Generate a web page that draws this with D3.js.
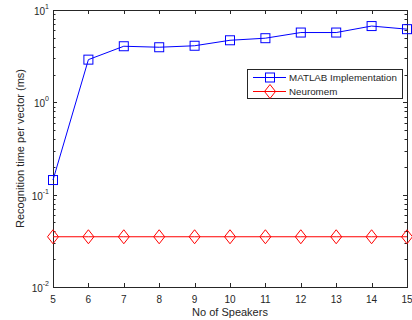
<!DOCTYPE html>
<html><head><meta charset="utf-8">
<script src="https://cdn.jsdelivr.net/npm/d3@7"></script>
<style>body{margin:0;background:#fff}svg{display:block}</style>
</head><body>
<svg id="c" width="412" height="320"></svg>
<script>
const speakers = [5,6,7,8,9,10,11,12,13,14,15];
const matlab = [0.144,2.9,4.05,3.95,4.1,4.7,4.95,5.7,5.7,6.7,6.2];
const neuromem = [0.035,0.035,0.035,0.035,0.035,0.035,0.035,0.035,0.035,0.035,0.035];
const yTickExp = [-2,-1,0,1];
const seriesNames = ["MATLAB Implementation","Neuromem"];

const svg = d3.select("#c");
const L=53,R=407,T=10,B=287;
const x = d3.scaleLinear().domain([5,15]).range([L,R]);
const y = d3.scaleLog().domain([0.01,10]).range([B,T]);
const ax="#262626", font="'Liberation Sans', Arial, sans-serif";
const g = svg.append("g");

// box
g.append("rect").attr("x",L+0.5).attr("y",T+0.5).attr("width",R-L).attr("height",B-T)
 .attr("fill","none").attr("stroke",ax).attr("stroke-width",1);

// x ticks
speakers.forEach(v=>{
  const px=Math.round(x(v))+0.5;
  g.append("line").attr("x1",px).attr("x2",px).attr("y1",B).attr("y2",B-4).attr("stroke",ax);
  g.append("line").attr("x1",px).attr("x2",px).attr("y1",T).attr("y2",T+4).attr("stroke",ax);
  g.append("text").attr("x",x(v)).attr("y",B+16).attr("text-anchor","middle")
   .attr("font-family",font).attr("font-size",10).attr("fill",ax).text(v);
});
// y ticks major + minor
for(let e=-2;e<=0;e++){
  for(let m=2;m<=9;m++){
    const py=Math.round(y(m*Math.pow(10,e)))+0.5;
    g.append("line").attr("x1",L).attr("x2",L+2.5).attr("y1",py).attr("y2",py).attr("stroke",ax);
    g.append("line").attr("x1",R).attr("x2",R-2.5).attr("y1",py).attr("y2",py).attr("stroke",ax);
  }
}
yTickExp.forEach(e=>{
  const py=Math.round(y(Math.pow(10,e)))+0.5;
  g.append("line").attr("x1",L).attr("x2",L+4).attr("y1",py).attr("y2",py).attr("stroke",ax);
  g.append("line").attr("x1",R).attr("x2",R-4).attr("y1",py).attr("y2",py).attr("stroke",ax);
  const t=g.append("text").attr("x",L-4).attr("y",py+4).attr("text-anchor","end")
   .attr("font-family",font).attr("font-size",10).attr("fill",ax);
  t.append("tspan").text("10");
  t.append("tspan").attr("dy",-6).attr("font-size",7).text(e);
});

// axis labels
g.append("text").attr("x",(L+R)/2).attr("y",316).attr("text-anchor","middle")
 .attr("font-family",font).attr("font-size",11).attr("fill",ax).text("No of Speakers");
g.append("text").attr("transform",`translate(24,${(T+B)/2}) rotate(-90)`).attr("text-anchor","middle")
 .attr("font-family",font).attr("font-size",11).attr("fill",ax).text("Recognition time per vector (ms)");

const line = d3.line().x((d,i)=>x(speakers[i])).y(d=>y(d));
const blue="#0000ff", red="#ff0000";
g.append("path").attr("d",line(matlab)).attr("fill","none").attr("stroke",blue).attr("stroke-width",1);
g.append("path").attr("d",line(neuromem)).attr("fill","none").attr("stroke",red).attr("stroke-width",1);

function sq(sel,cx,cy){sel.append("rect").attr("x",cx-4.5).attr("y",cy-4.5).attr("width",9).attr("height",9)
 .attr("fill","none").attr("stroke",blue).attr("stroke-width",1);}
function dm(sel,cx,cy){sel.append("path").attr("d",`M${cx},${cy-7}L${cx+5.5},${cy}L${cx},${cy+7}L${cx-5.5},${cy}Z`)
 .attr("fill","none").attr("stroke",red).attr("stroke-width",1);}
matlab.forEach((d,i)=>sq(g,x(speakers[i]),y(d)));
neuromem.forEach((d,i)=>dm(g,x(speakers[i]),y(d)));

// legend
const lg=g.append("g");
lg.append("rect").attr("x",247.5).attr("y",69.5).attr("width",155).attr("height",29)
 .attr("fill","#fff").attr("stroke",ax).attr("stroke-width",1);
const ly=[77.5,91.5];
lg.append("line").attr("x1",253).attr("x2",286).attr("y1",ly[0]).attr("y2",ly[0]).attr("stroke",blue);
sq(lg,270,ly[0]);
lg.append("line").attr("x1",253).attr("x2",286).attr("y1",ly[1]).attr("y2",ly[1]).attr("stroke",red);
dm(lg,270,ly[1]);
const lt=seriesNames.map((n,i)=>lg.append("text").attr("x",289).attr("y",ly[i]+3.5)
 .attr("font-family",font).attr("font-size",10).attr("fill",ax).text(n));
const w=lt[0].node().getComputedTextLength();
const fs=Math.min(11.5,10*108/w);
lt.forEach(t=>t.attr("font-size",fs));
</script>
</body></html>
